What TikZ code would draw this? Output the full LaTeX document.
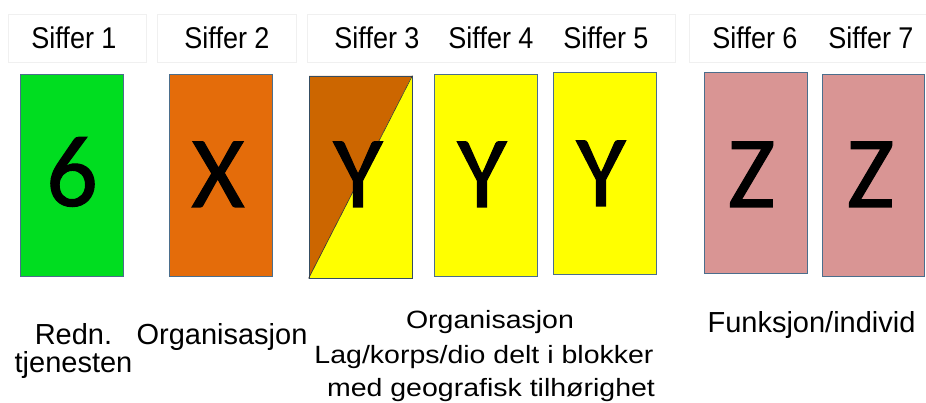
\documentclass[tikz,border=0pt]{standalone}
\usepackage{fontspec}
\setmainfont{Liberation Sans}
\newfontfamily\bigf[FakeBold=1.0]{Carlito}
\newfontfamily\headf[FakeStretch=0.9]{Liberation Sans}
\newfontfamily\labf[FakeStretch=1.14]{Liberation Sans}
\definecolor{cgreen}{RGB}{0,221,32}
\definecolor{corange}{RGB}{228,108,10}
\definecolor{cdark}{RGB}{204,102,0}
\definecolor{cyellow}{RGB}{255,255,0}
\definecolor{cpink}{RGB}{217,149,148}
\definecolor{cborder}{RGB}{75,110,140}
\definecolor{chdr}{RGB}{240,240,240}
\begin{document}
\begin{tikzpicture}[x=1pt,y=-1pt,
  hdrbox/.style={draw=chdr, line width=0.8pt, minimum height=48pt, inner sep=0pt},
  hdrtext/.style={anchor=base, inner sep=0pt, font=\headf\fontsize{30}{30}\selectfont},
  card/.style={draw=cborder, line width=1pt, minimum width=103pt, minimum height=202pt, inner sep=0pt},
  bigtext/.style={anchor=base, inner sep=0pt, font=\bigf\fontsize{102}{102}\selectfont},
  labtext/.style={anchor=base, inner sep=0pt, font=\fontsize{29}{29}\selectfont},
  labtextc/.style={anchor=base, inner sep=0pt, font=\labf\fontsize{25}{25}\selectfont}]
\useasboundingbox (0,0) rectangle (926,403);
\clip (0,0) rectangle (926,403);
\fill[white] (0,0) rectangle (926,403);
% header boxes
\node[hdrbox, minimum width=138pt] (h1) at (77,38) {};
\node[hdrbox, minimum width=139pt] (h2) at (226.5,38) {};
\node[hdrbox, minimum width=368pt] (h3) at (491,38) {};
\node[hdrbox, minimum width=251pt] (h4) at (814.5,38) {};
% header texts
\node[hdrtext] (s1) at (74,49) {Siffer 1};
\node[hdrtext] (s2) at (227,49) {Siffer 2};
\node[hdrtext] (s3) at (377,49) {Siffer 3};
\node[hdrtext] (s4) at (491,49) {Siffer 4};
\node[hdrtext] (s5) at (606,49) {Siffer 5};
\node[hdrtext] (s6) at (755,49) {Siffer 6};
\node[hdrtext] (s7) at (871,49) {Siffer 7};
% cards
\node[card, fill=cgreen] (r1) at (71.5,176) {};
\node[card, fill=corange] (r2) at (220.5,176) {};
\fill[cdark] (309,76) -- (412,76) -- (309,278) -- cycle;
\fill[cyellow] (412,76) -- (412,278) -- (309,278) -- cycle;
\node[draw=cborder!70!black, line width=0.8pt, minimum width=103pt, minimum height=202pt, inner sep=0pt] (r3) at (360.5,177) {};
\draw[black!80, line width=0.6pt] (r3.south west) -- (r3.north east);
\node[card, fill=cyellow] (r4) at (485.5,176) {};
\node[card, fill=cyellow] (r5) at (604.5,174) {};
\node[card, fill=cpink, minimum height=201pt] (r6) at (755.5,173.5) {};
\node[card, fill=cpink, minimum width=102pt] (r7) at (873,176) {};
% big letters
\node[bigtext] (t1) at (72,206) {6};
\node[bigtext] (t2) at (218,207) {X};
\node[bigtext] (t3) at (358,207) {Y};
\node[bigtext] (t4) at (482,207) {Y};
\node[bigtext] (t5) at (601,206) {Y};
\node[bigtext] (t6) at (751.5,207) {Z};
\node[bigtext] (t7) at (870.5,207) {Z};
% bottom labels
\node[labtext] (l1a) at (73.5,344) {Redn.};
\node[labtext] (l1b) at (73.5,372) {tjenesten};
\node[labtext] (l2) at (222,344) {Organisasjon};
\node[labtextc] (l3a) at (490,328) {Organisasjon};
\node[labtextc] (l3b) at (484,363) {Lag/korps/dio delt i blokker};
\node[labtextc] (l3c) at (491,396) {med geografisk tilhørighet};
\node[labtext] (l4) at (811.5,332) {Funksjon/individ};
\end{tikzpicture}
\end{document}
